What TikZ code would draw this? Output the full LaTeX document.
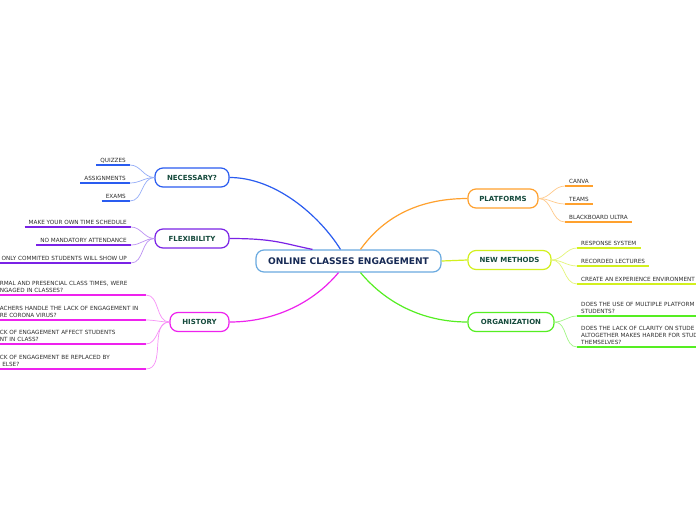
\documentclass[tikz,border=0pt]{standalone}
\usepackage{fontspec}
\setmainfont{DejaVu Sans}
\definecolor{cblue}{HTML}{2A5CF0}
\definecolor{cpurple}{HTML}{7A22E6}
\definecolor{cmagenta}{HTML}{EE22EE}
\definecolor{corange}{HTML}{FFA12E}
\definecolor{clime}{HTML}{D2F01E}
\definecolor{cgreen}{HTML}{55EE22}
\definecolor{cedge}{HTML}{6AAAE0}
\definecolor{ctitle}{HTML}{172A55}
\definecolor{cbranch}{HTML}{154A3C}
\definecolor{cleaf}{HTML}{2E2E2E}
\begin{document}
\begin{tikzpicture}[x=1pt, y=-1pt,
    topic/.style={draw, line width=1.2pt, rounded corners=8pt, fill=white, text=cbranch,
      font=\bfseries\fontsize{7}{8}\selectfont, minimum height=19pt, inner xsep=2pt},
    leaf/.style={text=cleaf, font=\fontsize{5.7}{7}\selectfont, inner xsep=4pt, inner ysep=2pt, align=left},
    uline/.style={line width=1.5pt},
    twig/.style={line width=0.7pt},
    bough/.style={line width=1.2pt}]
    \fill[white] (0,0) rectangle (696,520);
    \clip (0,0) rectangle (696,520);

    \node[draw=cedge, line width=1.2pt, rounded corners=8pt, fill=white, text=ctitle,
      font=\bfseries\fontsize{9.1}{10}\selectfont, minimum width=185pt, minimum height=22pt] (ce) at (348.5,261) {ONLINE CLASSES ENGAGEMENT};

    \node[topic, draw=cblue, minimum width=74pt] (nec) at (192,177.5) {NECESSARY?};
    \node[topic, draw=cpurple, minimum width=74pt] (flex) at (192,238.5) {FLEXIBILITY};
    \node[topic, draw=cmagenta, minimum width=59pt] (hist) at (199.5,322) {HISTORY};
    \node[topic, draw=corange, minimum width=70pt] (plat) at (503,198.5) {PLATFORMS};
    \node[topic, draw=clime, minimum width=83pt] (meth) at (509.5,260) {NEW METHODS};
    \node[topic, draw=cgreen, minimum width=86pt] (org) at (511,322) {ORGANIZATION};

    \draw[bough, cblue] (nec.east) .. controls +(45,0) and +(-22,-35) .. ([xshift=-8pt]ce.north);
    \draw[bough, cpurple] (flex.east) .. controls +(45,0) and +(-30,-6) .. ([xshift=-36pt]ce.north);
    \draw[bough, cmagenta] (hist.east) .. controls +(45,0) and +(-25,30) .. ([xshift=-10pt]ce.south);
    \draw[bough, corange] ([xshift=12pt]ce.north) .. controls +(25,-35) and +(-45,0) .. (plat.west);
    \draw[bough, clime] (ce.east) -- (meth.west);
    \draw[bough, cgreen] ([xshift=12pt]ce.south) .. controls +(25,30) and +(-45,0) .. (org.west);

    \node[leaf, anchor=south east] (quiz) at (130,165) {QUIZZES};
    \node[leaf, anchor=south east] (assign) at (130,183) {ASSIGNMENTS};
    \node[leaf, anchor=south east] (exams) at (130,201) {EXAMS};
    \foreach \n in {quiz,assign,exams} {
      \draw[uline, cblue] (\n.south west) -- (\n.south east);
      \draw[twig, cblue!50] (nec.west) to[out=180,in=0] (\n.south east);
    }

    \node[leaf, anchor=south east] (sched) at (131,227) {MAKE YOUR OWN TIME SCHEDULE};
    \node[leaf, anchor=south east] (attend) at (131,245) {NO MANDATORY ATTENDANCE};
    \node[leaf, anchor=south east] (commit) at (131,263) {ONLY COMMITED STUDENTS WILL SHOW UP};
    \foreach \n in {sched,attend,commit} {
      \draw[uline, cpurple] (\n.south west) -- (\n.south east);
      \draw[twig, cpurple!50] (flex.west) to[out=180,in=0] (\n.south east);
    }

    \node[leaf, anchor=south east, text width=142pt] (hq1) at (146,295) {RMAL AND PRESENCIAL CLASS TIMES, WERE\\NGAGED IN CLASSES?};
    \node[leaf, anchor=south east, text width=142pt] (hq2) at (146,320) {ACHERS HANDLE THE LACK OF ENGAGEMENT IN\\RE CORONA VIRUS?};
    \node[leaf, anchor=south east, text width=142pt] (hq3) at (146,344) {CK OF ENGAGEMENT AFFECT STUDENTS\\NT IN CLASS?};
    \node[leaf, anchor=south east, text width=142pt] (hq4) at (146,369) {CK OF ENGAGEMENT BE REPLACED BY\\\hspace*{2.5pt}ELSE?};
    \foreach \n in {hq1,hq2,hq3,hq4} {
      \draw[uline, cmagenta] (\n.south west) -- (\n.south east);
      \draw[twig, cmagenta!50] (hist.west) to[out=180,in=0] (\n.south east);
    }

    \node[leaf, anchor=south west] (canva) at (565,186) {CANVA};
    \node[leaf, anchor=south west] (teams) at (565,204) {TEAMS};
    \node[leaf, anchor=south west] (board) at (565,222) {BLACKBOARD ULTRA};
    \foreach \n in {canva,teams,board} {
      \draw[uline, corange] (\n.south west) -- (\n.south east);
      \draw[twig, corange!55] (plat.east) to[out=0,in=180] (\n.south west);
    }

    \node[leaf, anchor=south west] (resp) at (577,248) {RESPONSE SYSTEM};
    \node[leaf, anchor=south west] (rec) at (577,266) {RECORDED LECTURES};
    \node[leaf, anchor=south west] (exper) at (577,284) {CREATE AN EXPERIENCE ENVIRONMENT};
    \foreach \n in {resp,rec,exper} {
      \draw[uline, clime] (\n.south west) -- (\n.south east);
      \draw[twig, clime!60] (meth.east) to[out=0,in=180] (\n.south west);
    }

    \node[leaf, anchor=south west, text width=140pt] (oq1) at (577,316) {DOES THE USE OF MULTIPLE PLATFORM\\STUDENTS?};
    \node[leaf, anchor=south west, text width=140pt] (oq2) at (577,347) {DOES THE LACK OF CLARITY ON STUDE\\ALTOGETHER MAKES HARDER FOR STUD\\THEMSELVES?};
    \foreach \n in {oq1,oq2} {
      \draw[uline, cgreen] (\n.south west) -- (\n.south east);
      \draw[twig, cgreen!55] (org.east) to[out=0,in=180] (\n.south west);
    }
\end{tikzpicture}
\end{document}
